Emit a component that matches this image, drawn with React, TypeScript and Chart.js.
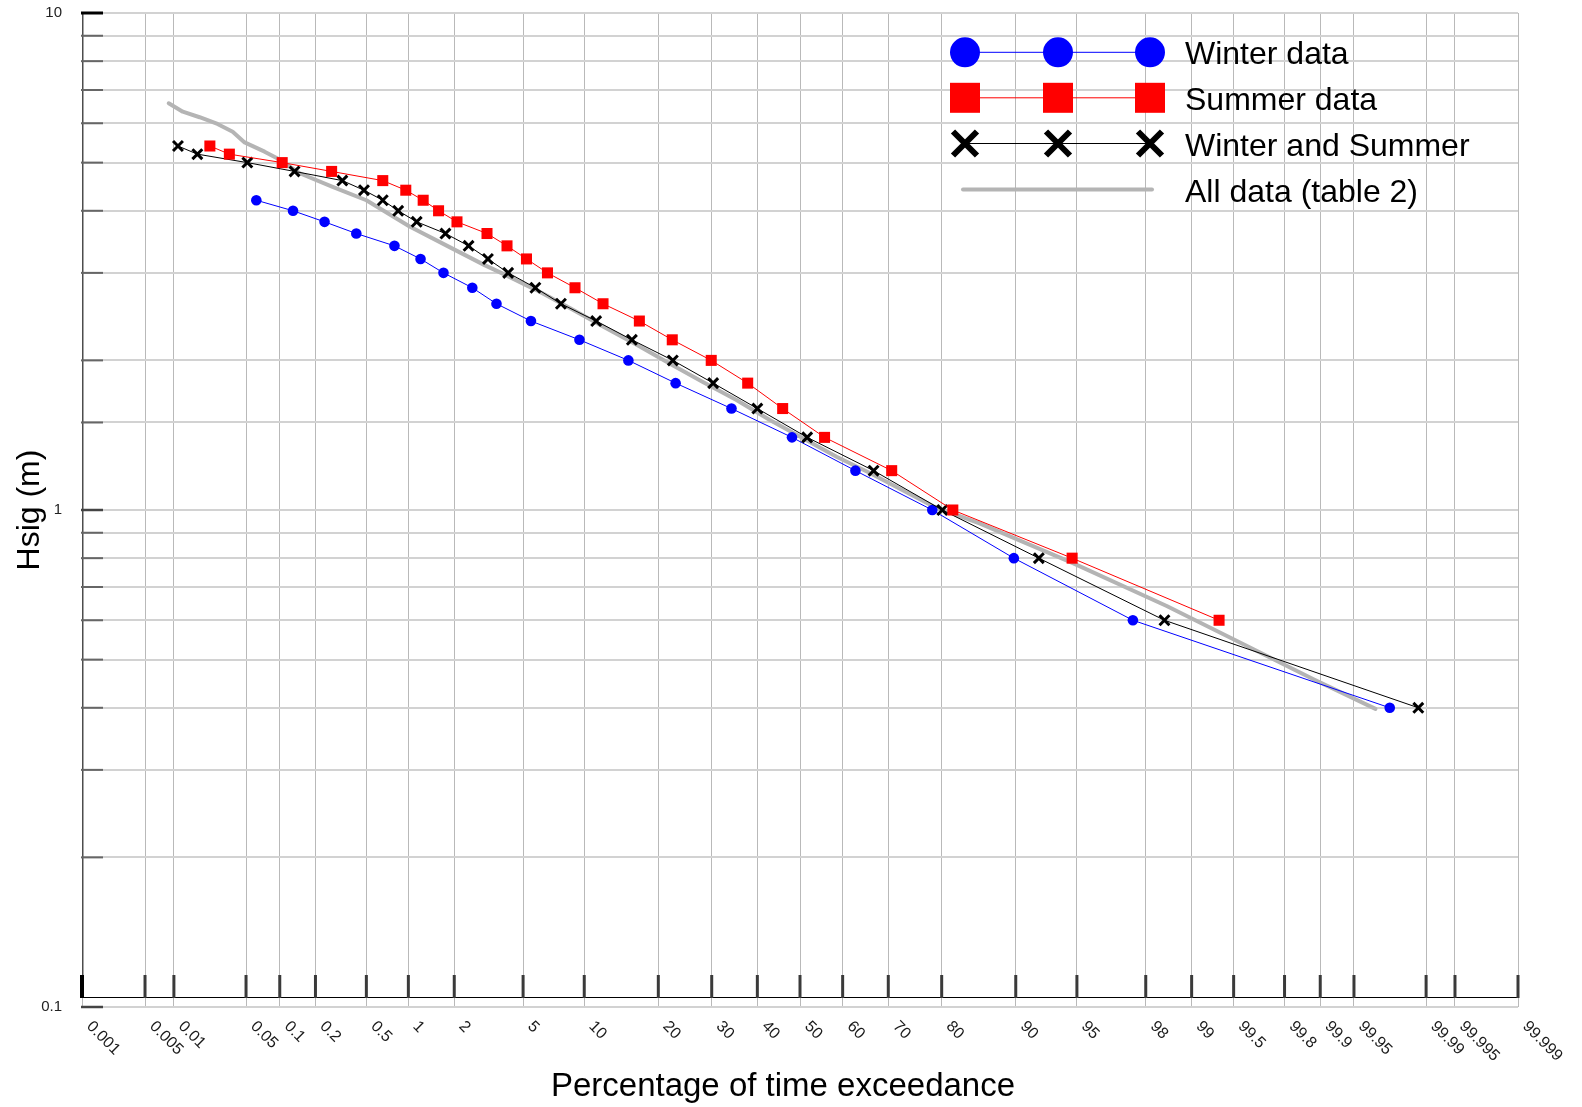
import React, { useEffect, useRef } from 'react';
import { Chart, registerables, Scale } from 'chart.js';

Chart.register(...registerables);

// ---------------- data ----------------
const X_TICKS = [0.001, 0.005, 0.01, 0.05, 0.1, 0.2, 0.5, 1, 2, 5, 10, 20, 30, 40, 50, 60, 70, 80, 90, 95, 98, 99, 99.5, 99.8, 99.9, 99.95, 99.99, 99.995, 99.999];
const X_TICK_LABELS = ['0.001', '0.005', '0.01', '0.05', '0.1', '0.2', '0.5', '1', '2', '5', '10', '20', '30', '40', '50', '60', '70', '80', '90', '95', '98', '99', '99.5', '99.8', '99.9', '99.95', '99.99', '99.995', '99.999'];
const Y_LABELS = [0.1, 1, 10];

const winterPct = [0.062, 0.13, 0.237, 0.42, 0.8, 1.21, 1.71, 2.58, 3.57, 5.5, 9.51, 15.4, 23.0, 34.2, 48.1, 62.9, 78.4, 89.8, 97.6, 99.977];
const winterHsig = [4.2, 4.0, 3.8, 3.6, 3.4, 3.2, 3.0, 2.8, 2.6, 2.4, 2.2, 2.0, 1.8, 1.6, 1.4, 1.2, 1.0, 0.8, 0.6, 0.4];

const summerPct = [0.0228, 0.035, 0.105, 0.27, 0.66, 0.96, 1.26, 1.59, 2.08, 3.15, 4.09, 5.21, 6.68, 9.07, 12.1, 17.0, 22.4, 29.9, 37.8, 45.9, 55.8, 70.7, 81.8, 94.7, 99.36];
const summerHsig = [5.4, 5.2, 5.0, 4.8, 4.6, 4.4, 4.2, 4.0, 3.8, 3.6, 3.4, 3.2, 3.0, 2.8, 2.6, 2.4, 2.2, 2.0, 1.8, 1.6, 1.4, 1.2, 1.0, 0.8, 0.6];

const bothPct = [0.011, 0.0172, 0.0514, 0.134, 0.328, 0.48, 0.66, 0.85, 1.14, 1.76, 2.45, 3.19, 4.15, 5.8, 7.78, 11.3, 15.9, 22.5, 30.3, 40.0, 51.7, 66.9, 80.1, 92.2, 98.48, 99.988];
const bothHsig = [5.4, 5.2, 5.0, 4.8, 4.6, 4.4, 4.2, 4.0, 3.8, 3.6, 3.4, 3.2, 3.0, 2.8, 2.6, 2.4, 2.2, 2.0, 1.8, 1.6, 1.4, 1.2, 1.0, 0.8, 0.6, 0.4];

const allPct = [0.00885, 0.0123, 0.0181, 0.027, 0.0376, 0.0485, 0.0736, 0.0939, 0.148, 0.275, 0.5, 1.02, 1.87, 3.05, 3.87, 5.87, 8.57, 12.1, 16.6, 22.0, 28.2, 35.3, 42.9, 50.7, 58.6, 66.1, 78.8, 85.7, 94.75, 98.53, 99.6, 99.889, 99.9685];
const allHsig = [6.58, 6.33, 6.17, 5.98, 5.77, 5.49, 5.26, 5.11, 4.76, 4.47, 4.2, 3.72, 3.38, 3.11, 2.99, 2.77, 2.55, 2.34, 2.15, 1.97, 1.81, 1.665, 1.517, 1.394, 1.28, 1.187, 1.014, 0.94, 0.782, 0.641, 0.533, 0.455, 0.398];

const X_TITLE = 'Percentage of time exceedance';
const Y_TITLE = 'Hsig (m)';

const FONT = '"Liberation Sans", Arial, Helvetica, sans-serif';

// ------------- normal probability helpers -------------
function probit(p: number): number {
  const a = [-3.969683028665376e1, 2.209460984245205e2, -2.759285104469687e2, 1.38357751867269e2, -3.066479806614716e1, 2.506628277459239];
  const b = [-5.447609879822406e1, 1.615858368580409e2, -1.556989798598866e2, 6.680131188771972e1, -1.328068155288572e1];
  const c = [-7.784894002430293e-3, -3.223964580411365e-1, -2.400758277161838, -2.549671348494009, 4.374664141464968, 2.938163982698783];
  const d = [7.784695709041462e-3, 3.224671290700398e-1, 2.445134137142996, 3.754408661907416];
  const pl = 0.02425;
  if (p < pl) {
    const q = Math.sqrt(-2 * Math.log(p));
    return (((((c[0] * q + c[1]) * q + c[2]) * q + c[3]) * q + c[4]) * q + c[5]) / ((((d[0] * q + d[1]) * q + d[2]) * q + d[3]) * q + 1);
  }
  if (p <= 1 - pl) {
    const q = p - 0.5;
    const r = q * q;
    return ((((((a[0] * r + a[1]) * r + a[2]) * r + a[3]) * r + a[4]) * r + a[5]) * q) / (((((b[0] * r + b[1]) * r + b[2]) * r + b[3]) * r + b[4]) * r + 1);
  }
  const q = Math.sqrt(-2 * Math.log(1 - p));
  return -(((((c[0] * q + c[1]) * q + c[2]) * q + c[3]) * q + c[4]) * q + c[5]) / ((((d[0] * q + d[1]) * q + d[2]) * q + d[3]) * q + 1);
}

function normCdf(z: number): number {
  const t = 1 / (1 + 0.2316419 * Math.abs(z));
  const dd = 0.3989423 * Math.exp((-z * z) / 2);
  const pr = dd * t * (0.3193815 + t * (-0.3565638 + t * (1.781478 + t * (-1.821256 + t * 1.330274))));
  return z > 0 ? 1 - pr : pr;
}

// ------------- custom probability (normal) scale -------------
class ProbabilityScale extends (Scale as any) {
  static id = 'probability';
  static defaults = {};
  _zMin = 0;
  _zMax = 1;
  determineDataLimits() {
    (this as any).min = (this as any).options.min;
    (this as any).max = (this as any).options.max;
  }
  buildTicks() {
    return X_TICKS.map((v) => ({ value: v }));
  }
  getLabelForValue(v: number) {
    return String(v);
  }
  configure() {
    super.configure();
    this._zMin = probit((this as any).min / 100);
    this._zMax = probit((this as any).max / 100);
  }
  getPixelForValue(v: number) {
    return (this as any).getPixelForDecimal((probit(v / 100) - this._zMin) / (this._zMax - this._zMin));
  }
  getValueForPixel(px: number) {
    const z = this._zMin + (this as any).getDecimalForPixel(px) * (this._zMax - this._zMin);
    return 100 * normCdf(z);
  }
}
Chart.register(ProbabilityScale as any);

const toPoints = (xs: number[], ys: number[]) => xs.map((x, i) => ({ x, y: ys[i] }));

// legend entries (order as shown)
const LEGEND = [
  { label: 'Winter data', kind: 'circle', color: '#0000ff' },
  { label: 'Summer data', kind: 'rect', color: '#ff0000' },
  { label: 'Winter and Summer', kind: 'cross', color: '#000000' },
  { label: 'All data (table 2)', kind: 'gray', color: '#b4b4b4' },
];

const decorPlugin = {
  id: 'decor',
  afterDraw(chart: any) {
    const { ctx, chartArea } = chart;
    const xs = chart.scales.x;
    const ys = chart.scales.y;
    const L = chartArea.left;
    const R = chartArea.right;
    const T = chartArea.top;
    const B = chartArea.bottom;
    const axisY = B - 10;
    ctx.save();

    // y axis line
    ctx.strokeStyle = '#4d4d4d';
    ctx.lineWidth = 1.5;
    ctx.beginPath();
    ctx.moveTo(L + 0.75, T);
    ctx.lineTo(L + 0.75, axisY);
    ctx.stroke();

    // y tick marks
    ys.ticks.forEach((t: any) => {
      const y = ys.getPixelForValue(t.value);
      const isTop = Math.abs(t.value - 10) < 1e-9;
      const isDecade = Math.abs(Math.log10(t.value) - Math.round(Math.log10(t.value))) < 1e-9;
      ctx.strokeStyle = isTop ? '#000' : isDecade ? '#444' : '#666';
      ctx.lineWidth = isTop ? 3 : isDecade ? 2.5 : 2;
      ctx.beginPath();
      ctx.moveTo(L - 1, y);
      ctx.lineTo(L + 21, y);
      ctx.stroke();
    });

    // x axis line + tick marks
    ctx.strokeStyle = '#000';
    ctx.lineWidth = 1;
    ctx.beginPath();
    ctx.moveTo(L, axisY + 0.5);
    ctx.lineTo(R, axisY + 0.5);
    ctx.stroke();
    xs.ticks.forEach((t: any, i: number) => {
      const px = xs.getPixelForValue(t.value);
      ctx.strokeStyle = i === 0 ? '#000' : '#3a3a3a';
      ctx.lineWidth = i === 0 ? 4 : 3;
      ctx.beginPath();
      ctx.moveTo(px, axisY - 22);
      ctx.lineTo(px, axisY + 1);
      ctx.stroke();
    });

    // x tick labels, rotated 45 degrees clockwise
    ctx.fillStyle = '#1a1a1a';
    ctx.font = `16px ${FONT}`;
    ctx.textAlign = 'left';
    ctx.textBaseline = 'middle';
    xs.ticks.forEach((t: any, i: number) => {
      const px = xs.getPixelForValue(t.value);
      ctx.save();
      ctx.translate(px + 7, B + 17);
      ctx.rotate(Math.PI / 4);
      ctx.fillText(X_TICK_LABELS[i], 0, 0);
      ctx.restore();
    });

    // axis titles
    ctx.fillStyle = '#000';
    ctx.font = `33px ${FONT}`;
    ctx.textAlign = 'center';
    ctx.textBaseline = 'alphabetic';
    ctx.fillText(X_TITLE, 783, 1096);
    ctx.font = `32px ${FONT}`;
    ctx.save();
    ctx.translate(38.5, (T + B) / 2);
    ctx.rotate(-Math.PI / 2);
    ctx.fillText(Y_TITLE, 0, 0);
    ctx.restore();

    // legend
    const mx = [965, 1058, 1150];
    const rows = [52.3, 97.8, 143.5, 189.5];
    LEGEND.forEach((e, r) => {
      const cy = rows[r];
      if (e.kind === 'gray') {
        ctx.strokeStyle = e.color;
        ctx.lineWidth = 4;
        ctx.lineCap = 'round';
        ctx.beginPath();
        ctx.moveTo(963, cy);
        ctx.lineTo(1152, cy);
        ctx.stroke();
        ctx.lineCap = 'butt';
      } else {
        ctx.strokeStyle = e.color;
        ctx.lineWidth = 1;
        ctx.beginPath();
        ctx.moveTo(mx[0], cy);
        ctx.lineTo(mx[2], cy);
        ctx.stroke();
        mx.forEach((x) => {
          ctx.fillStyle = e.color;
          if (e.kind === 'circle') {
            ctx.beginPath();
            ctx.arc(x, cy, 15, 0, Math.PI * 2);
            ctx.fill();
          } else if (e.kind === 'rect') {
            ctx.fillRect(x - 15, cy - 15, 30, 30);
          } else {
            ctx.strokeStyle = e.color;
            ctx.lineWidth = 6;
            ctx.beginPath();
            ctx.moveTo(x - 12, cy - 12);
            ctx.lineTo(x + 12, cy + 12);
            ctx.moveTo(x + 12, cy - 12);
            ctx.lineTo(x - 12, cy + 12);
            ctx.stroke();
          }
        });
      }
      ctx.fillStyle = '#000';
      ctx.font = `32px ${FONT}`;
      ctx.textAlign = 'left';
      ctx.textBaseline = 'alphabetic';
      ctx.fillText(e.label, 1185, cy + 12);
    });

    ctx.restore();
  },
};

export default function App() {
  const ref = useRef<HTMLCanvasElement>(null);
  useEffect(() => {
    document.body.style.margin = '0';
    const config: any = {
      type: 'line',
      data: {
        datasets: [
          {
            label: 'Summer data',
            data: toPoints(summerPct, summerHsig),
            borderColor: '#ff0000',
            backgroundColor: '#ff0000',
            borderWidth: 1,
            pointStyle: 'rect',
            pointRadius: 7.8,
            pointBorderWidth: 0,
            pointBackgroundColor: '#ff0000',
            order: 0,
          },
          {
            label: 'Winter and Summer',
            data: toPoints(bothPct, bothHsig),
            borderColor: '#000000',
            backgroundColor: '#000000',
            borderWidth: 1,
            pointStyle: 'crossRot',
            pointRadius: 7,
            pointBorderWidth: 3,
            pointBorderColor: '#000000',
            order: 1,
          },
          {
            label: 'Winter data',
            data: toPoints(winterPct, winterHsig),
            borderColor: '#0000ff',
            backgroundColor: '#0000ff',
            borderWidth: 1,
            pointStyle: 'circle',
            pointRadius: 5.3,
            pointBorderWidth: 0,
            pointBackgroundColor: '#0000ff',
            order: 2,
          },
          {
            label: 'All data (table 2)',
            data: toPoints(allPct, allHsig),
            borderColor: '#b4b4b4',
            backgroundColor: '#b4b4b4',
            borderWidth: 4,
            borderCapStyle: 'round',
            borderJoinStyle: 'round',
            pointRadius: 0,
            order: 3,
          },
        ],
      },
      options: {
        animation: false,
        responsive: false,
        devicePixelRatio: 1,
        events: [],
        layout: { padding: { left: 0, top: 13, right: 64, bottom: 100 } },
        plugins: { legend: { display: false }, tooltip: { enabled: false }, title: { display: false } },
        scales: {
          x: {
            type: 'probability',
            min: 0.001,
            max: 99.999,
            grid: { color: '#b9b9b9', lineWidth: 1, drawTicks: false },
            border: { display: false },
            ticks: { display: false },
          },
          y: {
            type: 'logarithmic',
            min: 0.1,
            max: 10,
            afterFit: (s: any) => {
              s.width = 82;
              s.paddingTop = 0;
              s.paddingBottom = 0;
            },
            grid: { color: '#d2d2d2', lineWidth: 2, drawTicks: false },
            border: { display: false },
            ticks: {
              autoSkip: false,
              padding: 20,
              color: '#222',
              font: { size: 15, family: FONT },
              callback: (v: any) => {
                const hit = Y_LABELS.find((l) => Math.abs(l - Number(v)) < 1e-9);
                return hit === undefined ? '' : String(hit);
              },
            },
          },
        },
      },
      plugins: [decorPlugin],
    };
    const chart = new Chart(ref.current as HTMLCanvasElement, config);
    return () => chart.destroy();
  }, []);
  return (
    <div style={{ position: 'absolute', left: 0, top: 0, width: 1582, height: 1107, background: '#fff' }}>
      <canvas ref={ref} width={1582} height={1107} style={{ display: 'block', width: 1582, height: 1107 }} />
    </div>
  );
}
